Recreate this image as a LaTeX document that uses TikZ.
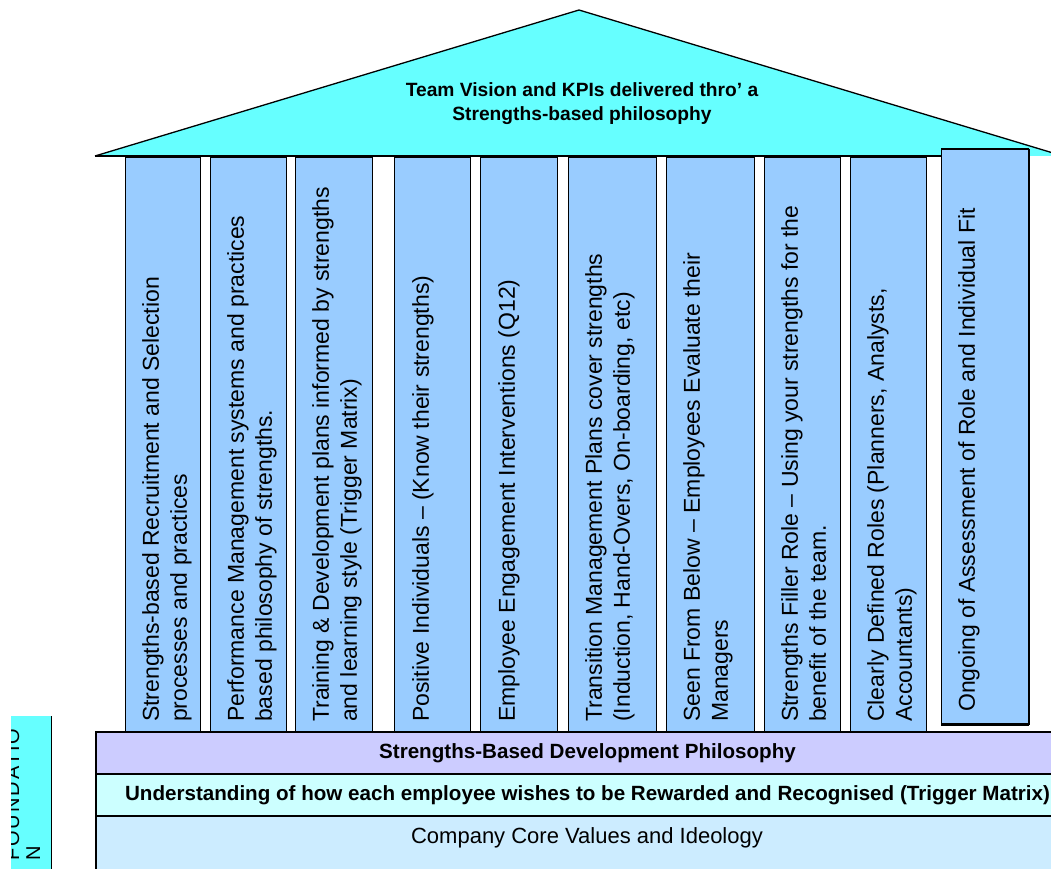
\documentclass[tikz,border=0pt]{standalone}
\usepackage{fontspec}
\setmainfont{Liberation Sans}
\definecolor{roofc}{HTML}{66FFFF}
\definecolor{pillarc}{HTML}{99CCFF}
\definecolor{barA}{HTML}{CCCCFF}
\definecolor{barB}{HTML}{CCFFFF}
\definecolor{barC}{HTML}{CCECFF}
\begin{document}
\begin{tikzpicture}[x=1pt,y=-1pt,
  pil/.style={draw=black, line width=0.9pt, fill=pillarc, anchor=north west, inner sep=0pt, minimum height=574pt},
  ptext/.style={rotate=90, anchor=north west, inner sep=0pt, align=left, font=\fontsize{23}{28}\selectfont},
  barbox/.style={draw=black, line width=2pt, anchor=north west, inner sep=0pt, minimum width=983pt, minimum height=42pt},
  bartext/.style={font=\bfseries\fontsize{20.6}{24}\selectfont},
]
\useasboundingbox (0,0) rectangle (1051,869);
\clip (0,0) rectangle (1051,869);

% roof
\fill[roofc] (95,156) -- (579,10) -- (1063,156) -- cycle;
\draw[line width=1.3pt] (95,156) -- (579,10) -- (1063,156);
\draw[line width=2.6pt] (95,156) -- (941,156);
\node[font=\bfseries\fontsize{19.2}{24}\selectfont, align=center] (roof) at (582,104)
  {Team Vision and KPIs delivered thro' a\\Strengths-based philosophy};

% pillars
\node[pil, minimum width=75pt] (p1) at (125,157) {};
\node[pil, minimum width=76pt] (p2) at (210,157) {};
\node[pil, minimum width=77pt] (p3) at (295,157) {};
\node[pil, minimum width=76pt] (p4) at (394,157) {};
\node[pil, minimum width=77pt] (p5) at (480,157) {};
\node[pil, minimum width=88pt] (p6) at (568,157) {};
\node[pil, minimum width=88pt] (p7) at (666,157) {};
\node[pil, minimum width=76pt] (p8) at (764,157) {};
\node[pil, minimum width=76pt] (p9) at (850,157) {};
\node[pil, minimum width=87pt, minimum height=575pt] (p10) at (941,149) {};
\draw[line width=2.4pt] (p10.north west) -- (p10.north east);
\draw[line width=3pt] (p10.south west) -- (p10.south east);
\draw[line width=1.4pt] (p10.north east) -- (p10.south east);

\node[ptext] (t1) at (142,722) {Strengths-based Recruitment and Selection\\processes and practices};
\node[ptext] (t2) at (227,722) {Performance Management systems and practices\\based philosophy of strengths.};
\node[ptext] (t3) at (312,722) {Training \& Development plans informed by strengths\\and learning style (Trigger Matrix)};
\node[ptext] (t4) at (412,722) {Positive Individuals – (Know their strengths)};
\node[ptext] (t5) at (498,722) {Employee Engagement Interventions (Q12)};
\node[ptext] (t6) at (585,722) {Transition Management Plans cover strengths\\(Induction, Hand-Overs, On-boarding, etc)};
\node[ptext] (t7) at (683,722) {Seen From Below – Employees Evaluate their\\Managers};
\node[ptext] (t8) at (781,722) {Strengths Filler Role – Using your strengths for the\\benefit of the team.};
\node[ptext] (t9) at (867,722) {Clearly Defined Roles (Planners, Analysts,\\Accountants)};
\node[ptext] (t10) at (958,712) {Ongoing of Assessment of Role and Individual Fit};

% foundation bars
\node[barbox, fill=barC, minimum height=70pt] (b3) at (95,815) {};
\node[font=\fontsize{22}{26}\selectfont] (b3t) at (587,838) {Company Core Values and Ideology};
\node[barbox, fill=barB, bartext] (b2) at (95,773)
  {Understanding of how each employee wishes to be Rewarded and Recognised (Trigger Matrix)};
\node[barbox, fill=barA, bartext] (b1) at (95,731)
  {Strengths-Based Development Philosophy};

% foundation label
\node[fill=roofc, anchor=north west, inner sep=0pt, minimum width=40pt, minimum height=160pt] (fbox) at (11,716) {};
\draw[line width=1pt] (fbox.north east) -- (fbox.south east);
\begin{scope}
\clip (11,716) rectangle (51,869);
\node[rotate=90, anchor=north west, inner sep=0pt, align=left,
  font=\fontsize{20}{21}\selectfont\addfontfeature{LetterSpace=10}] (ftext) at (5,861) {FOUNDATIO\\N};
\end{scope}
\end{tikzpicture}
\end{document}
